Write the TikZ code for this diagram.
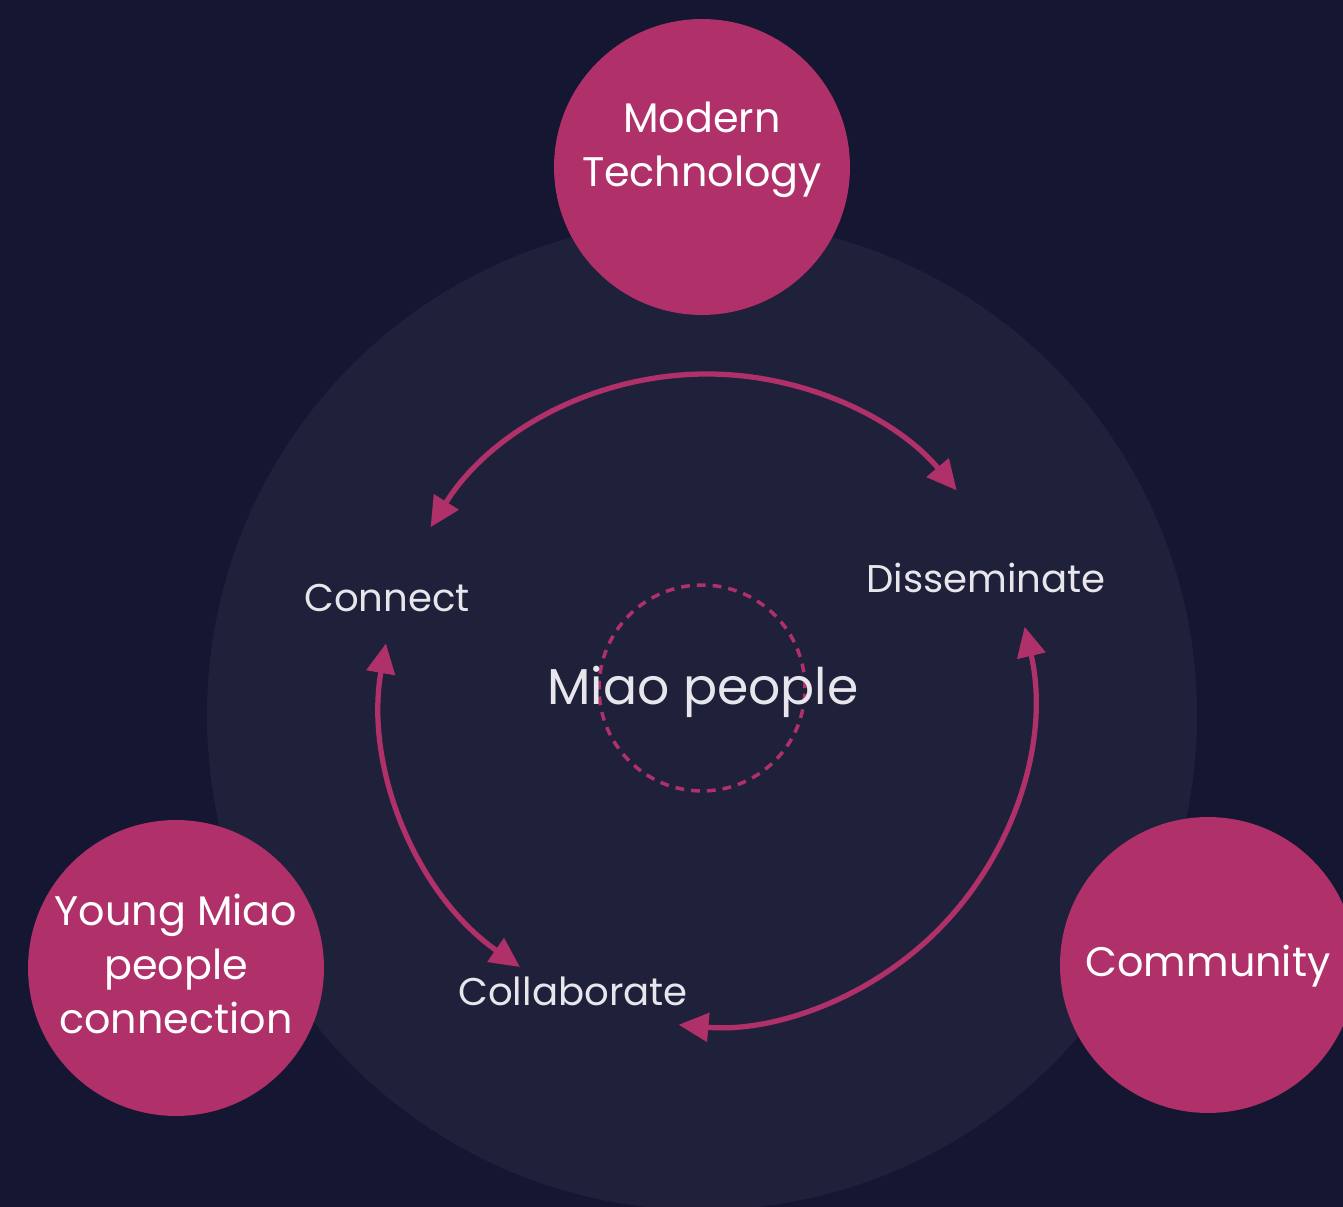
\documentclass[tikz,border=0pt]{standalone}
\usepackage{fontspec}
\setmainfont{Poppins}
\usetikzlibrary{arrows.meta}
\definecolor{bgnavy}{HTML}{141632}
\definecolor{disc}{HTML}{1F2039}
\definecolor{rose}{HTML}{B0306A}
\definecolor{ink}{HTML}{E6E6EC}
\begin{document}
\begin{tikzpicture}[x=0.02cm, y=0.02cm,
    bubble/.style={circle, fill=rose, minimum size=5.92cm, inner sep=0pt},
    bubbletext/.style={text=white, align=center, font=\fontsize{23.5}{31}\selectfont},
    steplabel/.style={text=ink, anchor=base, font=\fontsize{22}{26}\selectfont},
    flow/.style={draw=rose, line width=3pt,
      {Triangle[length=17pt,width=16pt]}-{Triangle[length=17pt,width=16pt]}}]
    \useasboundingbox (0,0) rectangle (1343,1207);
    \clip (0,0) rectangle (1343,1207);
    \fill[bgnavy] (0,0) rectangle (1343,1207);
    \fill[disc] (702,492) circle[radius=495];

    \begin{scope}
      \node[bubble] (tech) at (702,1040) {};
      \node[bubble] (youth) at (176,239) {};
      \node[bubble] (comm) at (1208,242) {};
      \node[bubbletext] (techtext) at (702,1057) {Modern\\Technology};
      \node[bubbletext] (youthtext) at (176,243) {Young Miao\\people\\connection};
      \node[bubbletext] (commtext) at (1208,241) {Community};
    \end{scope}

    \begin{scope}
      \node[circle, draw=rose, line width=2pt, dash pattern=on 5pt off 4pt,
        minimum size=4.12cm] (core) at (702,519) {};
      \node[text=ink, anchor=base, font=\fontsize{28.7}{34}\selectfont] (miao) at (703,502) {Miao people};
      \node[steplabel] (connect) at (387,595) {Connect};
      \node[steplabel] (spread) at (986,614) {Disseminate};
      \node[steplabel] (collab) at (573,201) {Collaborate};
    \end{scope}

    \coordinate (hub) at (707,507);
    \draw[flow] ([shift={(148:326)}]hub) arc[start angle=148, end angle=40, radius=326];
    \draw[flow] ([shift={(170:326)}]hub) arc[start angle=170, end angle=235, radius=326];
    \draw[flow] ([shift={(13:326)}]hub) arc[start angle=13, end angle=-95, radius=326];
\end{tikzpicture}
\end{document}
